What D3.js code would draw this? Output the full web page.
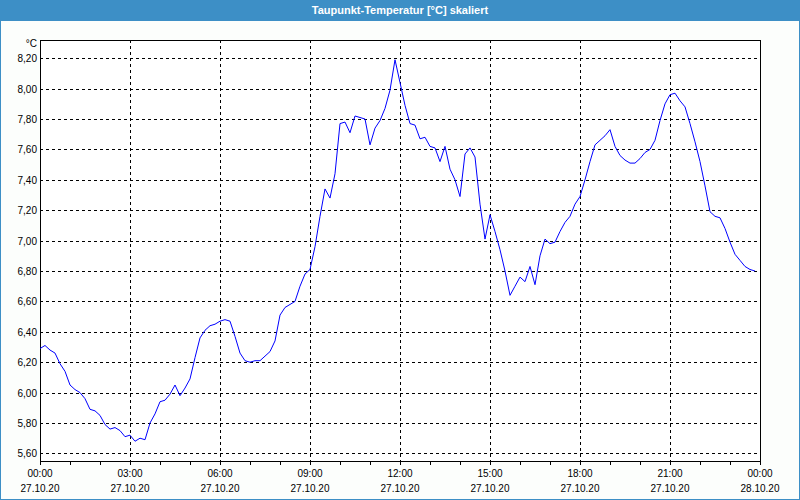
<!DOCTYPE html>
<html>
<head>
<meta charset="utf-8">
<script src="https://cdn.jsdelivr.net/npm/d3@7"></script>
<style>
  body { margin: 0; background: #ffffff; }
  svg text { font-family: "Liberation Sans", Arial, sans-serif; }
</style>
</head>
<body>
<div id="chart"></div>
<script>

// chart title and unit
var title = "Taupunkt-Temperatur [°C] skaliert";
var unit = "°C";

// series: dew point every 10 minutes, starting 27.10.20 00:00
var startTime = "2020-10-27T00:00:00";
var endTime = "2020-10-28T00:00:00";
var stepMinutes = 10;
var values = [
  6.29, 6.31, 6.28, 6.26, 6.19, 6.14, 6.05, 6.02, 6.00, 5.96,
  5.89, 5.88, 5.85, 5.79, 5.76, 5.77, 5.75, 5.71, 5.72, 5.68,
  5.70, 5.69, 5.80, 5.86, 5.94, 5.95, 5.99, 6.05, 5.98, 6.03,
  6.09, 6.23, 6.36, 6.41, 6.44, 6.45, 6.47, 6.48, 6.47, 6.37,
  6.26, 6.21, 6.20, 6.21, 6.21, 6.24, 6.27, 6.34, 6.51, 6.56,
  6.58, 6.60, 6.70, 6.78, 6.81, 6.96, 7.16, 7.34, 7.28, 7.44,
  7.77, 7.78, 7.71, 7.82, 7.81, 7.80, 7.63, 7.74, 7.79, 7.87,
  7.99, 8.19, 8.04, 7.89, 7.77, 7.76, 7.67, 7.68, 7.62, 7.61,
  7.52, 7.62, 7.47, 7.40, 7.29, 7.57, 7.61, 7.55, 7.24, 7.01,
  7.17, 7.06, 6.94, 6.80, 6.64, 6.70, 6.76, 6.73, 6.83, 6.71,
  6.90, 7.01, 6.98, 6.99, 7.06, 7.12, 7.16, 7.24, 7.29, 7.40,
  7.52, 7.63, 7.66, 7.69, 7.73, 7.62, 7.56, 7.53, 7.51, 7.51,
  7.54, 7.58, 7.60, 7.66, 7.79, 7.90, 7.96, 7.97, 7.92, 7.88,
  7.77, 7.65, 7.52, 7.36, 7.19, 7.16, 7.15, 7.08, 6.99, 6.91,
  6.87, 6.83, 6.81, 6.80
];

// axis ticks
var yTicks = [5.6, 5.8, 6.0, 6.2, 6.4, 6.6, 6.8, 7.0, 7.2, 7.4, 7.6, 7.8, 8.0, 8.2];
var xTickHours = [0, 3, 6, 9, 12, 15, 18, 21, 24];
var xTimeLabels = ["00:00", "03:00", "06:00", "09:00", "12:00", "15:00", "18:00", "21:00", "00:00"];
var xDateLabels = ["27.10.20", "27.10.20", "27.10.20", "27.10.20", "27.10.20", "27.10.20", "27.10.20", "27.10.20", "28.10.20"];

var width = 800, height = 500;
var barColor = "#3d8fc6";
var plot = { left: 40, right: 760, top: 40, bottom: 461 };

var svg = d3.select("#chart").append("svg")
    .attr("width", width)
    .attr("height", height);

// window background + border
svg.append("rect")
    .attr("x", 0.5).attr("y", 0.5)
    .attr("width", width - 1).attr("height", height - 1)
    .attr("fill", "#fcfefc")
    .attr("stroke", barColor)
    .attr("stroke-width", 1);

// title bar
svg.append("rect")
    .attr("x", 0).attr("y", 0)
    .attr("width", width).attr("height", 21)
    .attr("fill", barColor);

svg.append("text")
    .attr("x", width / 2)
    .attr("y", 14)
    .attr("text-anchor", "middle")
    .attr("fill", "#ffffff")
    .attr("font-size", "11px")
    .attr("font-weight", "bold")
    .text(title);

var t0 = new Date(startTime);
var data = values.map(function(v, i){
    return { date: new Date(t0.getTime() + i * stepMinutes * 60000), value: v };
});

var x = d3.scaleTime()
    .domain([t0, new Date(endTime)])
    .range([plot.left, plot.right]);

var y = d3.scaleLinear()
    .domain([5.55, 8.32])
    .range([plot.bottom, plot.top]);

function hourDate(h){
    return new Date(t0.getTime() + h * 3600000);
}

// plot background
svg.append("rect")
    .attr("x", plot.left).attr("y", plot.top)
    .attr("width", plot.right - plot.left)
    .attr("height", plot.bottom - plot.top)
    .attr("fill", "#ffffff");

// horizontal grid
svg.selectAll(".hgrid")
    .data(yTicks)
    .enter().append("line")
    .attr("class", "hgrid")
    .attr("x1", plot.left).attr("x2", plot.right)
    .attr("y1", function(d){ return Math.round(y(d)) + 0.5; })
    .attr("y2", function(d){ return Math.round(y(d)) + 0.5; })
    .attr("stroke", "#000")
    .attr("stroke-dasharray", "3,3")
    .attr("shape-rendering", "crispEdges");

// vertical grid (inner 3h marks)
svg.selectAll(".vgrid")
    .data(xTickHours.slice(1, -1))
    .enter().append("line")
    .attr("class", "vgrid")
    .attr("y1", plot.top).attr("y2", plot.bottom)
    .attr("x1", function(d){ return Math.round(x(hourDate(d))) + 0.5; })
    .attr("x2", function(d){ return Math.round(x(hourDate(d))) + 0.5; })
    .attr("stroke", "#000")
    .attr("stroke-dasharray", "3,3")
    .attr("shape-rendering", "crispEdges");

// hourly tick marks under the axis
var hours = d3.range(0, 25);
svg.selectAll(".tick-h")
    .data(hours)
    .enter().append("line")
    .attr("class", "tick-h")
    .attr("y1", plot.bottom).attr("y2", plot.bottom + 4)
    .attr("x1", function(d){ return Math.round(x(hourDate(d))) + 0.5; })
    .attr("x2", function(d){ return Math.round(x(hourDate(d))) + 0.5; })
    .attr("stroke", "#000")
    .attr("shape-rendering", "crispEdges");

// frame
svg.append("rect")
    .attr("x", plot.left + 0.5).attr("y", plot.top + 0.5)
    .attr("width", plot.right - plot.left)
    .attr("height", plot.bottom - plot.top)
    .attr("fill", "none")
    .attr("stroke", "#000")
    .attr("shape-rendering", "crispEdges");

// y labels
var fmt = d3.format(".2f");
svg.selectAll(".ylabel")
    .data(yTicks)
    .enter().append("text")
    .attr("class", "ylabel")
    .attr("x", plot.left - 3)
    .attr("y", function(d){ return y(d) + 4; })
    .attr("text-anchor", "end")
    .attr("font-size", "10px")
    .attr("fill", "#000")
    .text(function(d){ return fmt(d).replace(".", ","); });

svg.append("text")
    .attr("x", plot.left - 3)
    .attr("y", plot.top + 7)
    .attr("text-anchor", "end")
    .attr("font-size", "10px")
    .attr("fill", "#000")
    .text(unit);

// x labels
svg.selectAll(".xtime")
    .data(xTickHours)
    .enter().append("text")
    .attr("class", "xtime")
    .attr("x", function(d){ return x(hourDate(d)); })
    .attr("y", 477)
    .attr("text-anchor", "middle")
    .attr("font-size", "10px")
    .attr("fill", "#000")
    .text(function(d, i){ return xTimeLabels[i]; });

svg.selectAll(".xdate")
    .data(xTickHours)
    .enter().append("text")
    .attr("class", "xdate")
    .attr("x", function(d){ return x(hourDate(d)); })
    .attr("y", 492)
    .attr("text-anchor", "middle")
    .attr("font-size", "10px")
    .attr("fill", "#000")
    .text(function(d, i){ return xDateLabels[i]; });

// the line
var line = d3.line()
    .x(function(d){ return x(d.date); })
    .y(function(d){ return y(d.value); });

svg.append("path")
    .datum(data)
    .attr("d", line)
    .attr("fill", "none")
    .attr("stroke", "#0000ff")
    .attr("stroke-width", 1);

</script>
</body>
</html>
